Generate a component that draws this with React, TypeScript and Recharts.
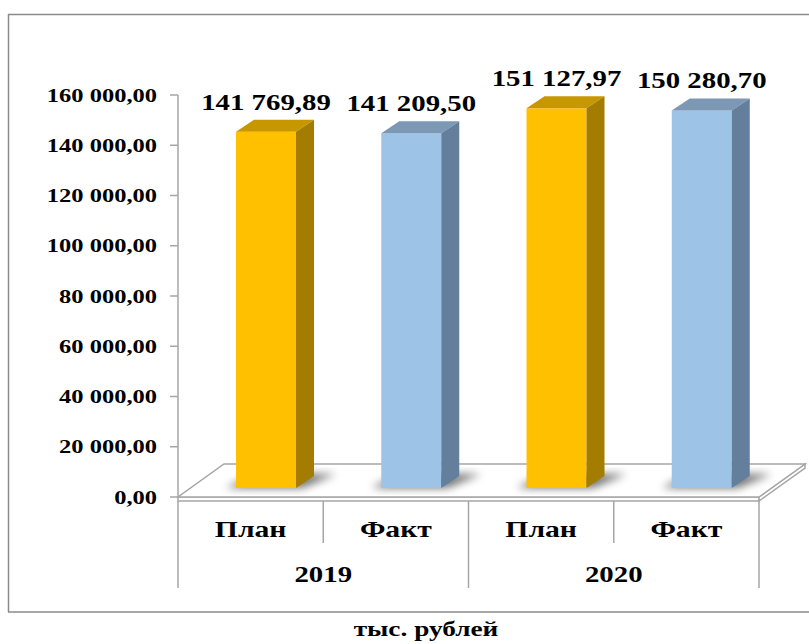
import React from "react";
import { BarChart, Bar, XAxis, YAxis } from "recharts";

// values (тыс. рублей)
const categories = ["План", "Факт", "План", "Факт"];
const years = ["2019", "2019", "2020", "2020"];
const values = [141769.89, 141209.5, 151127.97, 150280.7];
const yTicks = [0, 20000, 40000, 60000, 80000, 100000, 120000, 140000, 160000];

const data = categories.map((name, i) => ({ name, year: years[i], value: values[i] }));

const W = 809;
const H = 644;
// plot box (set through margins / axis sizes below)
const PLOT = { left: 178, right: 759, top: 95, bottom: 497 };
const BAND = (PLOT.right - PLOT.left) / categories.length;

const FONT = "'Liberation Serif', 'Times New Roman', serif";
const GRAY = "#a6a6a6";

// 3d look of the bars
const SHIFT = 15;
const LIFT = 9;
const DX = 18;
const DY = 12;

const GOLD = { front: "#FFC000", top: "#C79700", side: "#A47D00" };
const BLUE = { front: "#9DC3E6", top: "#7C98B4", side: "#637F9B" };

const fmt = (n: number) => {
  const [i, d] = n.toFixed(2).split(".");
  return i.replace(/\B(?=(\d{3})+(?!\d))/g, " ") + "," + d;
};

const SText = ({ x, y, size, sx, anchor = "middle", children }: any) => (
  <text
    transform={`translate(${x} ${y}) scale(${sx} 1)`}
    textAnchor={anchor}
    fontFamily={FONT}
    fontWeight="bold"
    fontSize={size}
    fill="#000"
  >
    {children}
  </text>
);

const Bar3D = (props: any) => {
  const { x, y, width, height, payload } = props;
  if (x == null || height == null) return null;
  const c = payload.name === "План" ? GOLD : BLUE;
  const x0 = x + SHIFT;
  const y0 = y - LIFT;
  const by = y0 + height;
  const w = width;
  return (
    <g>
      <polygon
        points={`${x0 - 10},${by} ${x0 + w + 6},${by} ${x0 + w + DX + 22},${by - DY - 2} ${x0 + DX},${by - DY - 2}`}
        fill="#000"
        opacity={0.55}
        filter="url(#barShadow)"
      />
      <rect x={x0} y={y0} width={w} height={height} fill={c.front} />
      <polygon points={`${x0},${y0} ${x0 + DX},${y0 - DY} ${x0 + w + DX},${y0 - DY} ${x0 + w},${y0}`} fill={c.top} />
      <polygon
        points={`${x0 + w},${y0} ${x0 + w + DX},${y0 - DY} ${x0 + w + DX},${by - DY} ${x0 + w},${by}`}
        fill={c.side}
      />
      <SText x={x0 + w / 2} y={y0 - 22} size={24} sx={1.2}>
        {fmt(payload.value)}
      </SText>
    </g>
  );
};

const YTick = ({ y, payload }: any) => (
  <SText x={PLOT.left - 21} y={y + 6.5} size={19} sx={1.29} anchor="end">
    {fmt(payload.value)}
  </SText>
);

const CatTick = ({ x, payload }: any) => (
  <SText x={x} y={PLOT.bottom + 40} size={23} sx={1.29}>
    {payload.value}
  </SText>
);

const YearTick = ({ x, payload }: any) => (
  <SText x={x} y={PLOT.bottom + 85} size={24} sx={1.2}>
    {payload.value}
  </SText>
);

const Backdrop = () => {
  const fx = 46;
  const fy = 33;
  const t = 4;
  const b = PLOT.bottom;
  const dividers = [0, 1, 2, 3, 4].map((i) => ({
    x: PLOT.left + i * BAND,
    long: i % 2 === 0,
  }));
  return (
    <svg width={W} height={H} style={{ position: "absolute", left: 0, top: 0 }}>
      <defs>
        <filter id="barShadow" x="-50%" y="-50%" width="200%" height="200%">
          <feGaussianBlur stdDeviation="4" />
        </filter>
      </defs>
      <line x1={8} y1={14.5} x2={W} y2={14.5} stroke="#8a8a8a" strokeWidth={1.5} />
      <line x1={8.5} y1={14} x2={8.5} y2={612} stroke="#8a8a8a" strokeWidth={1.5} />
      <line x1={8} y1={612} x2={W} y2={612} stroke="#8a8a8a" strokeWidth={1.5} />
      {/* floor slab */}
      <polygon
        points={`${PLOT.left},${b} ${PLOT.right},${b} ${PLOT.right},${b + t} ${PLOT.left},${b + t}`}
        fill="#fff"
        stroke={GRAY}
        strokeWidth={1.5}
      />
      <polygon
        points={`${PLOT.right},${b} ${PLOT.right + fx},${b - fy} ${PLOT.right + fx},${b - fy + t} ${PLOT.right},${b + t}`}
        fill="#fff"
        stroke={GRAY}
        strokeWidth={1.5}
      />
      <polygon
        points={`${PLOT.left},${b} ${PLOT.right},${b} ${PLOT.right + fx},${b - fy} ${PLOT.left + fx},${b - fy}`}
        fill="#fff"
        stroke={GRAY}
        strokeWidth={1.5}
      />
      {dividers.map((d, i) => (
        <line
          key={i}
          x1={d.x}
          y1={b + t}
          x2={d.x}
          y2={d.long ? b + 91 : b + 46}
          stroke={GRAY}
          strokeWidth={1.5}
        />
      ))}
      <SText x={426} y={636} size={21} sx={1.3}>
        тыс. рублей
      </SText>
    </svg>
  );
};

export default function App() {
  return (
    <div style={{ position: "relative", width: W, height: H, background: "#fff" }}>
      <style>{"body{margin:0}"}</style>
      <Backdrop />
      <div style={{ position: "absolute", left: 0, top: 0 }}>
        <BarChart
          width={W}
          height={H}
          data={data}
          margin={{ top: PLOT.top, right: W - PLOT.right, bottom: 56, left: 8 }}
        >
          <XAxis dataKey="name" height={45} axisLine={false} tickLine={false} tick={<CatTick />} interval={0} />
          <XAxis
            xAxisId="year"
            dataKey="year"
            height={46}
            allowDuplicatedCategory={false}
            axisLine={false}
            tickLine={false}
            tick={<YearTick />}
            interval={0}
          />
          <YAxis
            width={170}
            domain={[0, 160000]}
            ticks={yTicks}
            interval={0}
            tickSize={8}
            axisLine={{ stroke: GRAY, strokeWidth: 1.5 }}
            tickLine={{ stroke: GRAY, strokeWidth: 1.5 }}
            tick={<YTick />}
          />
          <Bar dataKey="value" barSize={60} shape={<Bar3D />} isAnimationActive={false} />
        </BarChart>
      </div>
    </div>
  );
}
